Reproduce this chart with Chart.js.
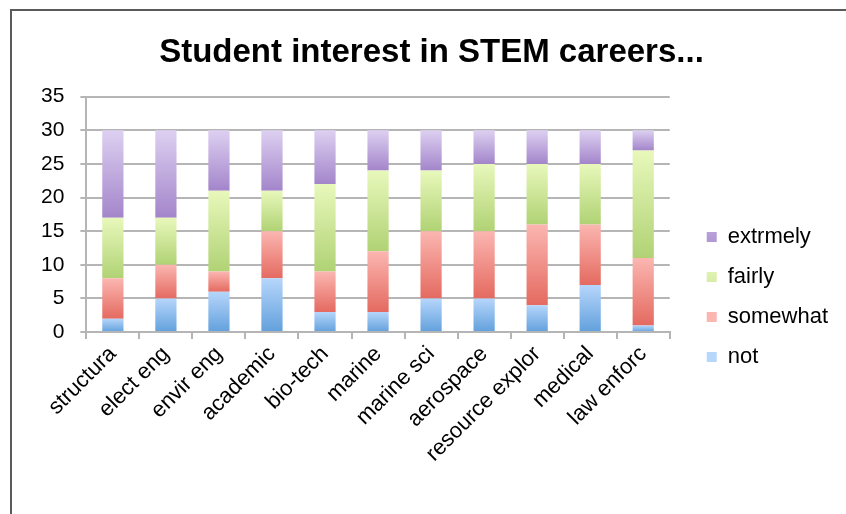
<!DOCTYPE html>
<html>
<head>
<meta charset="utf-8">
<script src="https://cdn.jsdelivr.net/npm/chart.js@4/dist/chart.umd.min.js"></script>
<style>
  html, body { margin: 0; padding: 0; background: #fff; }
  #frame {
    position: absolute; left: 10px; top: 9px;
    width: 834px; height: 503px;
    border-left: 2px solid #5a5a5a; border-top: 2px solid #5a5a5a;
  }
  #frame canvas { display: block; }
</style>
</head>
<body>
<div id="frame"><canvas id="stemChart" width="834" height="503"></canvas></div>
<script>
  // ===== Datos =====
  const careers = ["structura", "elect eng", "envir eng", "academic", "bio-tech", "marine",
    "marine sci", "aerospace", "resource explor", "medical", "law enforc"];
  const notVals      = [2, 5, 6, 8, 3, 3, 5, 5, 4, 7, 1];
  const somewhatVals = [6, 5, 3, 7, 6, 9, 10, 10, 12, 9, 10];
  const fairlyVals   = [9, 7, 12, 6, 13, 12, 9, 10, 9, 9, 16];
  const extremelyVals = [13, 13, 9, 9, 8, 6, 6, 5, 5, 5, 3];
  const yTicks = [0, 5, 10, 15, 20, 25, 30, 35];

  const stackOrder = [notVals, somewhatVals, fairlyVals, extremelyVals];

  // gradiente vertical por segmento (claro arriba, oscuro abajo)
  function segFill(light, mid, dark) {
    return (c) => {
      const chart = c.chart;
      if (c.type !== "data" || !chart.chartArea || !chart.scales.y) return mid;
      let base = 0;
      for (let i = 0; i < c.datasetIndex; i++) base += stackOrder[i][c.dataIndex];
      const top = base + stackOrder[c.datasetIndex][c.dataIndex];
      const y = chart.scales.y;
      const y0 = y.getPixelForValue(top);
      const y1 = y.getPixelForValue(base);
      if (!isFinite(y0) || !isFinite(y1) || y0 === y1) return mid;
      const g = chart.ctx.createLinearGradient(0, y0, 0, y1);
      g.addColorStop(0, light);
      g.addColorStop(1, dark);
      return g;
    };
  }

  // deja hueco entre la gráfica y la leyenda, y baja un poco la leyenda
  const legendGap = 19;
  const legendDrop = 46;
  const legendShift = {
    id: "legendShift",
    beforeLayout(chart) {
      const lg = chart.legend;
      if (!lg || lg._shifted) return;
      lg._shifted = true;
      const fit = lg.fit;
      lg.fit = function () {
        fit.call(this);
        this.width += legendGap;
      };
      const draw = lg.draw;
      lg.draw = function () {
        const ctx = this.ctx;
        ctx.save();
        ctx.translate(legendGap, legendDrop);
        draw.call(this);
        ctx.restore();
      };
    },
  };

  const font = "'Liberation Sans', Arial, Helvetica, sans-serif";

  new Chart(document.getElementById("stemChart"), {
    type: "bar",
    data: {
      labels: careers,
      datasets: [
        { label: "not", data: notVals, backgroundColor: segFill("#b6d6fb", "#8fbdf0", "#62a0dc") },
        { label: "somewhat", data: somewhatVals, backgroundColor: segFill("#fbb6b1", "#f39790", "#e46a60") },
        { label: "fairly", data: fairlyVals, backgroundColor: segFill("#e8f8bb", "#cfe79e", "#b0d274") },
        { label: "extrmely", data: extremelyVals, backgroundColor: segFill("#ddd0f1", "#bfaae0", "#a385ca") },
      ],
    },
    options: {
      responsive: false,
      animation: false,
      barPercentage: 0.8,
      categoryPercentage: 0.5,
      layout: { padding: { left: 13, right: 8, top: 22, bottom: 45 } },
      plugins: {
        title: {
          display: true,
          text: "Student interest in STEM careers...",
          color: "#000",
          font: { family: font, size: 33, weight: "bold" },
          padding: { top: 0, bottom: 24 },
        },
        legend: {
          position: "right",
          reverse: true,
          labels: {
            color: "#000",
            boxWidth: 10,
            boxHeight: 10,
            padding: 18,
            font: { family: font, size: 22 },
          },
        },
        tooltip: { enabled: false },
      },
      scales: {
        x: {
          stacked: true,
          grid: { display: true, drawOnChartArea: false, color: "#b5b5b5", lineWidth: 2, tickLength: 7 },
          border: { color: "#b5b5b5", width: 2 },
          ticks: {
            color: "#000",
            minRotation: 45,
            maxRotation: 45,
            padding: 2,
            font: { family: font, size: 22 },
          },
        },
        y: {
          stacked: true,
          min: 0,
          max: 35,
          afterBuildTicks: (axis) => { axis.ticks = yTicks.map((v) => ({ value: v })); },
          grid: { color: "#b5b5b5", lineWidth: 2, tickLength: 6 },
          border: { color: "#b5b5b5", width: 2 },
          ticks: {
            color: "#000",
            padding: 16,
            font: { family: font, size: 21 },
          },
        },
      },
    },
    plugins: [legendShift],
  });
</script>
</body>
</html>
